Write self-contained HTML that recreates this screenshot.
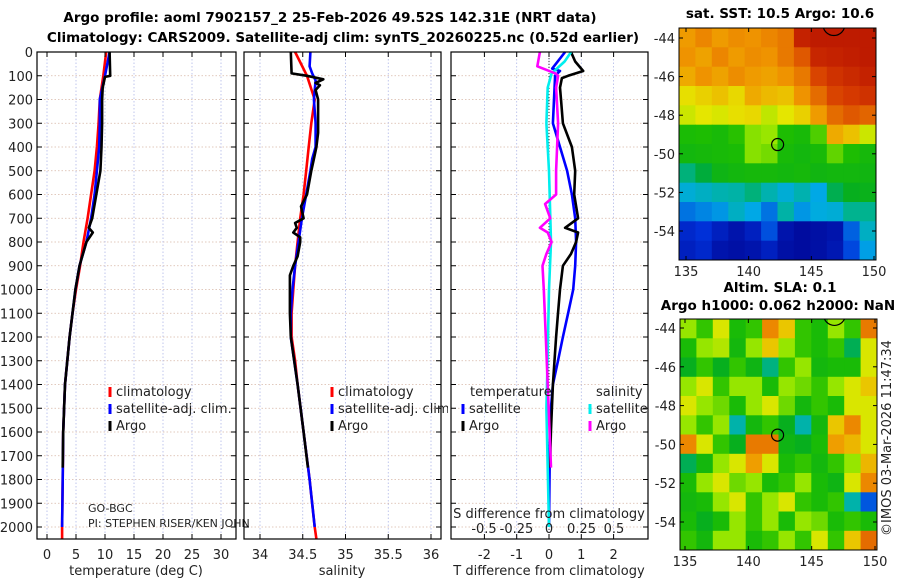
<!DOCTYPE html>
<html><head><meta charset="utf-8"><style>
html,body{margin:0;padding:0;background:#fff;}
svg{display:block;font-family:"DejaVu Sans","Liberation Sans",sans-serif;}
.t{font-size:13px;fill:#222;}
.b{font-weight:bold;font-size:13.5px;fill:#000;}
</style></head><body>
<svg id="c" width="900" height="580" viewBox="0 0 900 580" xmlns="http://www.w3.org/2000/svg"></svg>
<script>
// ---- data ----
const depthTicks=[0,100,200,300,400,500,600,700,800,900,1000,1100,1200,1300,1400,1500,1600,1700,1800,1900,2000];
const tempTicks=[0,5,10,15,20,25,30];
const salTicks=[34,34.5,35,35.5,36];
const salTickLabels=["34","34.5","35","35.5","36"];
const tdiffTicks=[-2,-1,0,1,2];
const sdiffTicks=[-0.5,-0.25,0,0.25,0.5];
const sdiffTickLabels=["-0.5","-0.25","0","0.25","0.5"];
// temperature profiles
const tClimDepth=[0,100,200,300,400,500,600,700,800,900,1000,1100,1200,1300,1400,1600,1800,2000,2050];
const tClim=[10.2,9.7,9.1,8.9,8.6,8.2,7.6,7.0,6.3,5.7,5.0,4.4,3.9,3.5,3.1,2.8,2.7,2.6,2.6];
const tSatDepth=[0,100,200,300,400,500,600,700,800,900,1000,1100,1200,1300,1400,1600,1800,2000];
const tSat=[10.8,10.0,9.1,9.1,9.0,8.6,8.2,7.6,6.8,5.6,4.9,4.4,3.9,3.5,3.1,2.8,2.7,2.6];
const tArgoDepth=[0,100,105,150,200,300,400,500,600,700,740,760,800,900,1000,1100,1200,1300,1400,1600,1750];
const tArgo=[10.8,10.9,10.0,9.6,9.5,9.5,9.4,9.2,8.5,7.8,7.2,7.9,6.8,5.6,4.9,4.4,3.9,3.5,3.1,2.8,2.7];
// salinity profiles
const sClimDepth=[0,100,200,300,400,500,600,700,800,900,1000,1100,1200,1300,1400,1600,1800,2000,2050];
const sClim=[34.41,34.55,34.64,34.60,34.57,34.54,34.51,34.47,34.44,34.41,34.39,34.37,34.37,34.41,34.44,34.51,34.58,34.64,34.66];
const sSatDepth=[0,60,90,120,200,300,400,450,500,600,700,800,900,1000,1100,1200,1300,1400,1600,1800,2000];
const sSat=[34.59,34.58,34.61,34.65,34.63,34.65,34.65,34.61,34.59,34.54,34.49,34.45,34.41,34.38,34.36,34.36,34.40,34.44,34.51,34.58,34.64];
const sArgoDepth=[0,90,100,115,130,140,160,200,300,340,400,450,500,600,650,700,720,740,760,780,800,860,900,940,1000,1100,1200,1400,1600,1750];
const sArgo=[34.36,34.37,34.55,34.74,34.65,34.70,34.65,34.68,34.68,34.68,34.66,34.63,34.60,34.55,34.48,34.51,34.41,34.43,34.39,34.47,34.47,34.44,34.39,34.35,34.35,34.35,34.36,34.44,34.51,34.56];
// difference profiles
const dTSatDepth=[0,70,80,100,300,400,500,600,700,800,900,1000,1100,1200,1300,1400,1500,1600,2000];
const dTSat=[0.5,0.1,0.34,0.19,0.12,0.34,0.56,0.71,0.81,0.84,0.81,0.75,0.59,0.43,0.28,0.12,0.06,0.03,0];
const dTArgoDepth=[0,40,80,100,110,150,200,300,400,500,600,700,740,760,800,850,900,1000,1100,1200,1400,1600,1750];
const dTArgo=[0.68,0.81,1.06,0.59,0.40,0.34,0.37,0.43,0.71,0.81,0.78,0.9,0.5,0.9,0.84,0.68,0.43,0.34,0.28,0.22,0.12,0.06,0.03];
const dSSatDepth=[0,40,90,150,300,500,800,1000,1400,1500,2000];
const dSSat=[0.17,0.12,0.02,-0.01,-0.02,0,0.015,0,-0.015,-0.02,0];
const dSArgoDepth=[0,60,90,100,150,300,500,600,640,700,740,760,800,850,900,1000,1200,1400,1600,1750];
const dSArgo=[-0.07,-0.09,0.05,0.07,0.055,0.07,0.055,0.055,-0.03,0.01,-0.07,-0.01,0.02,-0.02,-0.05,-0.04,-0.025,-0.01,0.005,0.015];
// maps
const lonTicks=[135,140,145,150];
const latTicks=[-44,-46,-48,-50,-52,-54];
const sstGrid=[
[12.5,12.8,12.5,12.7,12.6,12.8,13,14.6,14.8,14.8,14.8,14.8],
[12.6,12.4,12.8,12.5,12.7,12.6,13,13.5,14.5,14.6,14.7,14.8],
[12.3,12.6,12.4,12.7,12.5,12.4,12.6,13,13.8,14.2,14.4,14.6],
[11.6,11.8,12,11.7,12.3,12.1,12,12.6,13.2,13.8,14,14.2],
[11.3,11.5,11.4,11.6,11.7,11.2,11.5,11.8,12.5,13.2,13.5,13.3],
[10.1,10.2,10,10.3,10.8,10.9,10.2,10,10.5,12.3,12,11.3],
[9.8,9.9,10,10.1,10.8,10.7,10,9.8,10,10.6,10.2,9.9],
[8.6,8.9,9.6,9.8,9.9,9.9,9.8,9.9,9.7,9.8,9.8,9.7],
[7.8,8,8.2,8.3,8.6,8.2,7.8,8.2,7.6,8.8,9.3,9.4],
[7,7.2,7.4,8,7.6,7,8.3,7.4,7.7,7.8,8.5,8.5],
[6,6.2,5.8,5.5,5.8,6.6,5.5,5.3,5.4,5.5,6.8,8],
[5.8,6,5.5,5.4,5.5,5.8,5.4,5.3,5.4,5.6,6.5,7.5]];
const slaGrid=[
[.5,.45,.55,.42,.45,.68,.6,.45,.42,.5,.45,.7],
[.42,.5,.52,.4,.5,.6,.5,.45,.42,.45,.3,.55],
[.35,.45,.35,.45,.38,.28,.45,.5,.4,.42,.42,.55],
[.5,.55,.45,.5,.5,.42,.5,.48,.45,.5,.55,.6],
[.55,.5,.48,.42,.5,.55,.48,.4,.45,.42,.55,.55],
[.5,.45,.5,.25,.4,.45,.35,.25,.4,.6,.68,.55],
[.68,.55,.45,.35,.7,.7,.38,.35,.42,.65,.62,.55],
[.3,.4,.5,.55,.65,.55,.42,.45,.4,.45,.5,.62],
[.42,.5,.55,.48,.5,.42,.45,.5,.42,.38,.55,.68],
[.4,.42,.5,.55,.45,.5,.55,.45,.42,.45,.25,.1],
[.42,.35,.42,.5,.45,.5,.42,.5,.48,.42,.45,.42],
[.45,.4,.5,.5,.42,.45,.5,.45,.55,.45,.6,.72]];
const argoLon=142.31, argoLat=-49.52;

// ---- helpers ----
const NS="http://www.w3.org/2000/svg";
const svg=document.getElementById('c');
function mk(tag,attrs,parent){const e=document.createElementNS(NS,tag);for(const k in attrs)e.setAttribute(k,attrs[k]);(parent||svg).appendChild(e);return e;}
function txt(x,y,s,cls,anchor,parent){const e=mk('text',{x:x,y:y,class:cls,'text-anchor':anchor||'start'},parent);e.textContent=s;return e;}
const yD=d=>52+d*0.2375;
const Y0=52,Y1=539;
const xT=v=>47+v*5.8;
const xS=v=>260+(v-34)*85.5;
const xDT=v=>549+v*32.3;
const xDS=v=>549+v*130;

function panel(name){
  const g=mk('g',{});
  
  
  return g;
}
function grid(g,x0,x1,xs){
  depthTicks.forEach(d=>{mk('line',{x1:x0,x2:x1,y1:yD(d),y2:yD(d),stroke:'#d8b8a8','stroke-width':0.8,'stroke-dasharray':'1.5,2'},g);});
  xs.forEach(x=>{mk('line',{x1:x,x2:x,y1:Y0,y2:Y1,stroke:'#b0b8e8','stroke-width':0.8,'stroke-dasharray':'1.5,2'},g);});
}
function frame(g,x0,x1,xs){
  mk('rect',{x:x0,y:Y0,width:x1-x0,height:Y1-Y0,fill:'none',stroke:'#000','stroke-width':1.2},g);
  depthTicks.forEach(d=>{mk('line',{x1:x0,x2:x0+5,y1:yD(d),y2:yD(d),stroke:'#000'},g);mk('line',{x1:x1-5,x2:x1,y1:yD(d),y2:yD(d),stroke:'#000'},g);});
  xs.forEach(x=>{mk('line',{x1:x,x2:x,y1:Y1-5,y2:Y1,stroke:'#000'},g);mk('line',{x1:x,x2:x,y1:Y0,y2:Y0+5,stroke:'#000'},g);});
}
function line(g,depths,vals,xf,color,name,w){
  const pts=depths.map((d,i)=>xf(vals[i]).toFixed(1)+','+yD(d).toFixed(1)).join(' ');
  const p=mk('polyline',{points:pts,fill:'none',stroke:color,'stroke-width':w||2.6,'stroke-linejoin':'round'},g);
  
  
}
function legend(g,x,y,color,label,name){
  mk('line',{x1:x,x2:x,y1:y-9,y2:y+1,stroke:color,'stroke-width':3},g);
  const t=txt(x+6,y,label,'t','start',g);
  
  
}

// titles
const t1=txt(330,22,'Argo profile: aoml 7902157_2 25-Feb-2026 49.52S 142.31E (NRT data)','b','middle');


const t2=txt(343,42,'Climatology: CARS2009. Satellite-adj clim: synTS_20260225.nc (0.52d earlier)','b','middle');



// depth labels
const dl=mk('g',{});


depthTicks.forEach(d=>txt(33,yD(d)+5,String(d),'t','end',dl));

// panel 1
let g=panel('temperature-panel');
grid(g,37,236,tempTicks.map(xT));
line(g,tClimDepth,tClim,xT,'#f00','temperature-climatology-line');
line(g,tSatDepth,tSat,xT,'#00f','temperature-satellite-line');
line(g,tArgoDepth,tArgo,xT,'#000','temperature-argo-line');
frame(g,37,236,tempTicks.map(xT));
tempTicks.forEach(v=>txt(xT(v),559,String(v),'t','middle',g));
let at=txt(136,575,'temperature (deg C)','t','middle',g);


legend(g,110,396,'#f00','climatology','legend-climatology');
legend(g,110,413,'#00f','satellite-adj. clim.','legend-satellite-adj');
legend(g,110,430,'#000','Argo','legend-argo');
txt(88,512,'GO-BGC','t','start',g).setAttribute('style','font-size:11px');
txt(88,527,'PI: STEPHEN RISER/KEN JOHN','t','start',g).setAttribute('style','font-size:11px');

// panel 2
g=panel('salinity-panel');
grid(g,244,441,salTicks.map(xS));
line(g,sClimDepth,sClim,xS,'#f00','salinity-climatology-line');
line(g,sSatDepth,sSat,xS,'#00f','salinity-satellite-line');
line(g,sArgoDepth,sArgo,xS,'#000','salinity-argo-line');
frame(g,244,441,salTicks.map(xS));
salTicks.forEach((v,i)=>txt(xS(v),559,salTickLabels[i],'t','middle',g));
at=txt(342,575,'salinity','t','middle',g);


const clip=mk('clipPath',{id:'p2clip'});
mk('rect',{x:0,y:0,width:448,height:580},clip);
const lg2=mk('g',{'clip-path':'url(#p2clip)'},g);
legend(lg2,332,396,'#f00','climatology','legend-climatology-sal');
legend(lg2,332,413,'#00f','satellite-adj. clim.','legend-satellite-adj-sal');
legend(lg2,332,430,'#000','Argo','legend-argo-sal');

// panel 3
g=panel('difference-panel');
grid(g,451,648,tdiffTicks.map(xDT));
mk('line',{x1:549,x2:549,y1:Y0,y2:Y1,stroke:'#333','stroke-width':1,'stroke-dasharray':'1,2'},g);
line(g,dTSatDepth,dTSat,xDT,'#00f','tdiff-satellite-line');
line(g,dTArgoDepth,dTArgo,xDT,'#000','tdiff-argo-line');
line(g,dSSatDepth,dSSat,xDS,'#0ee','sdiff-satellite-line');
line(g,dSArgoDepth,dSArgo,xDS,'#f0f','sdiff-argo-line');
frame(g,451,648,tdiffTicks.map(xDT));
tdiffTicks.forEach(v=>txt(xDT(v),559,String(v),'t','middle',g));
sdiffTicks.forEach((v,i)=>txt(xDS(v),533,sdiffTickLabels[i],'t','middle',g));
txt(549,518,'S difference from climatology','t','middle',g);
at=txt(549,575,'T difference from climatology','t','middle',g);


txt(470,396,'temperature','t','start',g);
txt(596,396,'salinity','t','start',g);
legend(g,463,413,'#00f','satellite','legend-t-satellite');
legend(g,463,430,'#000','Argo','legend-t-argo');
legend(g,590,413,'#0ee','satellite','legend-s-satellite');
legend(g,590,430,'#f0f','Argo','legend-s-argo');

// colormap
const stops=[[0,[0,0,140]],[0.12,[0,50,220]],[0.25,[0,170,230]],[0.33,[0,180,150]],[0.38,[0,170,40]],[0.5,[30,190,0]],[0.56,[150,230,0]],[0.62,[230,230,0]],[0.72,[240,150,0]],[0.85,[215,60,0]],[1,[170,0,0]]];
function cmap(t){t=Math.max(0,Math.min(1,t));for(let i=1;i<stops.length;i++){if(t<=stops[i][0]){const a=stops[i-1],b=stops[i];const f=(t-a[0])/(b[0]-a[0]);const c=a[1].map((v,k)=>Math.round(v+(b[1][k]-v)*f));return 'rgb('+c.join(',')+')';}}return 'rgb(170,0,0)';}

function map(name,bx0,bx1,by0,by1,lat44,lat54,lon135,lon150,gridv,norm,title1,title2,t1y){
  const gg=mk('g',{});
  
  
  const xL=lon=>lon135+(lon-135)*(lon150-lon135)/15;
  const yL=lat=>lat44+(-44-lat)*(lat54-lat44)/10;
  const id=name+'-clip';
  const cp=mk('clipPath',{id:id},gg);mk('rect',{x:bx0,y:by0,width:bx1-bx0,height:by1-by0},cp);
  const cells=mk('g',{'clip-path':'url(#'+id+')'},gg);
  const nr=gridv.length,nc=gridv[0].length;
  const cw=(bx1-bx0)/nc,ch=(by1-by0)/nr;
  gridv.forEach((row,r)=>row.forEach((v,c)=>{
    const rc=mk('rect',{x:(bx0+c*cw).toFixed(1),y:(by0+r*ch).toFixed(1),width:(cw+0.6).toFixed(1),height:(ch+0.6).toFixed(1),fill:cmap(norm(v))},cells);
    
    
  }));
  mk('circle',{cx:xL(argoLon),cy:yL(argoLat),r:6,fill:'none',stroke:'#000','stroke-width':1.2},cells);
  mk('circle',{cx:xL(146.8),cy:yL(-43.3),r:11,fill:'none',stroke:'#000','stroke-width':1.2},cells);
  mk('rect',{x:bx0,y:by0,width:bx1-bx0,height:by1-by0,fill:'none',stroke:'#000','stroke-width':1},gg);
  lonTicks.forEach(l=>{mk('line',{x1:xL(l),x2:xL(l),y1:by1,y2:by1-4,stroke:'#000'},gg);mk('line',{x1:xL(l),x2:xL(l),y1:by0,y2:by0+4,stroke:'#000'},gg);txt(xL(l),by1+16,String(l),'t','middle',gg);});
  latTicks.forEach(l=>{mk('line',{x1:bx0,x2:bx0+4,y1:yL(l),y2:yL(l),stroke:'#000'},gg);mk('line',{x1:bx1-4,x2:bx1,y1:yL(l),y2:yL(l),stroke:'#000'},gg);txt(bx0-4,yL(l)+5,String(l),'t','end',gg);});
  if(title1)txt(780,t1y,title1,'b','middle',gg);
  if(title2)txt(778,t1y+18,title2,'b','middle',gg);
}
map('sst-map',679,876,28,260,38,231,686,874,sstGrid,v=>(v-5)/10.5,'sat. SST: 10.5 Argo: 10.6',null,18);
map('sla-map',680,877,319,550,328,522,685,875,slaGrid,v=>v+0.06,'Altim. SLA: 0.1','Argo h1000: 0.062 h2000: NaN',292);
const cr=txt(0,0,'©IMOS 03-Mar-2026 11:47:34','t','middle');
cr.setAttribute('transform','translate(891,438) rotate(-90)');


</script>
</body></html>
